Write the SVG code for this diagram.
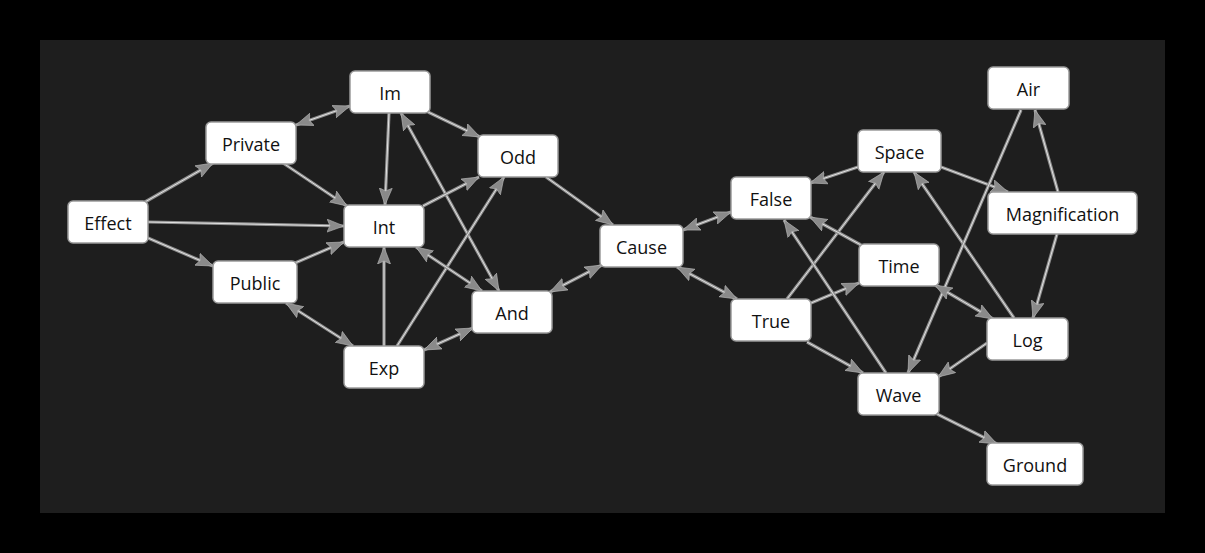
<svg xmlns="http://www.w3.org/2000/svg" width="1205" height="553" viewBox="0 0 1205 553">
<style>
.node rect{fill:#ffffff;stroke:#9a9a9a;stroke-width:1.5}
.node text{font-family:"Open Sans","Noto Sans","Liberation Sans",sans-serif;font-size:18px;fill:#111;text-anchor:middle}
.edge .o{fill:none;stroke:#8e8e8e;stroke-width:3.2}
.edge .i{fill:none;stroke:#e2e2e2;stroke-width:1}
</style>
<defs>
<marker id="ah" markerUnits="userSpaceOnUse" markerWidth="18" markerHeight="15" viewBox="0 0 18 15" refX="17" refY="7" orient="auto-start-reverse">
<path d="M0,0.5 L17,7 L0,13.5 L3,7 Z" fill="#8a8a8a" stroke="#b8b8b8" stroke-width="0.6"/>
</marker>
</defs>
<rect x="0" y="0" width="1205" height="553" fill="#000"/>
<rect x="40" y="40" width="1125" height="473" fill="#1e1e1e"/>
<g id="connectors">
<g class="edge"><path class="o" d="M145,202 L213,163"/><path class="i" d="M145,202 L213,163" marker-end="url(#ah)"/></g>
<g class="edge"><path class="o" d="M148,222 L344,226"/><path class="i" d="M148,222 L344,226" marker-end="url(#ah)"/></g>
<g class="edge"><path class="o" d="M148,238 L213,266"/><path class="i" d="M148,238 L213,266" marker-end="url(#ah)"/></g>
<g class="edge"><path class="o" d="M296,125 L350,106"/><path class="i" d="M296,125 L350,106" marker-start="url(#ah)" marker-end="url(#ah)"/></g>
<g class="edge"><path class="o" d="M283,163 L347,206"/><path class="i" d="M283,163 L347,206" marker-end="url(#ah)"/></g>
<g class="edge"><path class="o" d="M295,263 L344,242"/><path class="i" d="M295,263 L344,242" marker-end="url(#ah)"/></g>
<g class="edge"><path class="o" d="M286,303 L353,346"/><path class="i" d="M286,303 L353,346" marker-start="url(#ah)" marker-end="url(#ah)"/></g>
<g class="edge"><path class="o" d="M389,113 L385,205"/><path class="i" d="M389,113 L385,205" marker-end="url(#ah)"/></g>
<g class="edge"><path class="o" d="M428,112 L480,137"/><path class="i" d="M428,112 L480,137" marker-end="url(#ah)"/></g>
<g class="edge"><path class="o" d="M401,113 L499,291"/><path class="i" d="M401,113 L499,291" marker-start="url(#ah)" marker-end="url(#ah)"/></g>
<g class="edge"><path class="o" d="M423,206 L479,177"/><path class="i" d="M423,206 L479,177" marker-end="url(#ah)"/></g>
<g class="edge"><path class="o" d="M397,346 L504,177"/><path class="i" d="M397,346 L504,177" marker-end="url(#ah)"/></g>
<g class="edge"><path class="o" d="M384,346 L384,247"/><path class="i" d="M384,346 L384,247" marker-end="url(#ah)"/></g>
<g class="edge"><path class="o" d="M416,247 L482,291"/><path class="i" d="M416,247 L482,291" marker-start="url(#ah)" marker-end="url(#ah)"/></g>
<g class="edge"><path class="o" d="M424,350 L473,328"/><path class="i" d="M424,350 L473,328" marker-start="url(#ah)" marker-end="url(#ah)"/></g>
<g class="edge"><path class="o" d="M546,177 L613,225"/><path class="i" d="M546,177 L613,225" marker-end="url(#ah)"/></g>
<g class="edge"><path class="o" d="M550,292 L602,265"/><path class="i" d="M550,292 L602,265" marker-start="url(#ah)" marker-end="url(#ah)"/></g>
<g class="edge"><path class="o" d="M683,230 L731,212"/><path class="i" d="M683,230 L731,212" marker-start="url(#ah)" marker-end="url(#ah)"/></g>
<g class="edge"><path class="o" d="M677,267 L737,299"/><path class="i" d="M677,267 L737,299" marker-start="url(#ah)" marker-end="url(#ah)"/></g>
<g class="edge"><path class="o" d="M858,167 L810,183"/><path class="i" d="M858,167 L810,183" marker-end="url(#ah)"/></g>
<g class="edge"><path class="o" d="M787,299 L884,172"/><path class="i" d="M787,299 L884,172" marker-end="url(#ah)"/></g>
<g class="edge"><path class="o" d="M861,245 L810,217"/><path class="i" d="M861,245 L810,217" marker-end="url(#ah)"/></g>
<g class="edge"><path class="o" d="M811,303 L859,283"/><path class="i" d="M811,303 L859,283" marker-end="url(#ah)"/></g>
<g class="edge"><path class="o" d="M886,373 L784,220"/><path class="i" d="M886,373 L784,220" marker-end="url(#ah)"/></g>
<g class="edge"><path class="o" d="M807,342 L863,373"/><path class="i" d="M807,342 L863,373" marker-end="url(#ah)"/></g>
<g class="edge"><path class="o" d="M941,167 L1008,192"/><path class="i" d="M941,167 L1008,192" marker-end="url(#ah)"/></g>
<g class="edge"><path class="o" d="M1014,318 L914,172"/><path class="i" d="M1014,318 L914,172" marker-end="url(#ah)"/></g>
<g class="edge"><path class="o" d="M1058,192 L1035,110"/><path class="i" d="M1058,192 L1035,110" marker-end="url(#ah)"/></g>
<g class="edge"><path class="o" d="M1021,110 L908,373"/><path class="i" d="M1021,110 L908,373" marker-end="url(#ah)"/></g>
<g class="edge"><path class="o" d="M1057,234 L1033,318"/><path class="i" d="M1057,234 L1033,318" marker-end="url(#ah)"/></g>
<g class="edge"><path class="o" d="M935,285 L993,319"/><path class="i" d="M935,285 L993,319" marker-start="url(#ah)" marker-end="url(#ah)"/></g>
<g class="edge"><path class="o" d="M987,343 L938,377"/><path class="i" d="M987,343 L938,377" marker-end="url(#ah)"/></g>
<g class="edge"><path class="o" d="M937,414 L997,444"/><path class="i" d="M937,414 L997,444" marker-end="url(#ah)"/></g>
</g>
<g id="n-effect" class="node"><rect x="68" y="201" width="80" height="42" rx="5"/><text x="108" y="230">Effect</text></g>
<g id="n-private" class="node"><rect x="206" y="122" width="90" height="42" rx="5"/><text x="251" y="151">Private</text></g>
<g id="n-im" class="node"><rect x="350" y="71" width="80" height="42" rx="5"/><text x="390" y="100">Im</text></g>
<g id="n-odd" class="node"><rect x="478" y="135" width="80" height="42" rx="5"/><text x="518" y="164">Odd</text></g>
<g id="n-int" class="node"><rect x="344" y="205" width="80" height="42" rx="5"/><text x="384" y="234">Int</text></g>
<g id="n-public" class="node"><rect x="213" y="261" width="84" height="42" rx="5"/><text x="255" y="290">Public</text></g>
<g id="n-exp" class="node"><rect x="344" y="346" width="80" height="42" rx="5"/><text x="384" y="375">Exp</text></g>
<g id="n-and" class="node"><rect x="472" y="291" width="80" height="42" rx="5"/><text x="512" y="320">And</text></g>
<g id="n-cause" class="node"><rect x="600" y="225" width="83" height="42" rx="5"/><text x="641.5" y="254">Cause</text></g>
<g id="n-false" class="node"><rect x="731" y="177" width="80" height="42" rx="5"/><text x="771" y="206">False</text></g>
<g id="n-true" class="node"><rect x="731" y="299" width="80" height="42" rx="5"/><text x="771" y="328">True</text></g>
<g id="n-space" class="node"><rect x="858" y="130" width="83" height="42" rx="5"/><text x="899.5" y="159">Space</text></g>
<g id="n-time" class="node"><rect x="859" y="244" width="80" height="42" rx="5"/><text x="899" y="273">Time</text></g>
<g id="n-air" class="node"><rect x="988" y="67" width="81" height="42" rx="5"/><text x="1028.5" y="96">Air</text></g>
<g id="n-magnification" class="node"><rect x="988" y="192" width="149" height="42" rx="5"/><text x="1062.5" y="221">Magnification</text></g>
<g id="n-log" class="node"><rect x="987" y="318" width="81" height="42" rx="5"/><text x="1027.5" y="347">Log</text></g>
<g id="n-wave" class="node"><rect x="858" y="373" width="81" height="42" rx="5"/><text x="898.5" y="402">Wave</text></g>
<g id="n-ground" class="node"><rect x="987" y="443" width="96" height="42" rx="5"/><text x="1035" y="472">Ground</text></g>
</svg>
